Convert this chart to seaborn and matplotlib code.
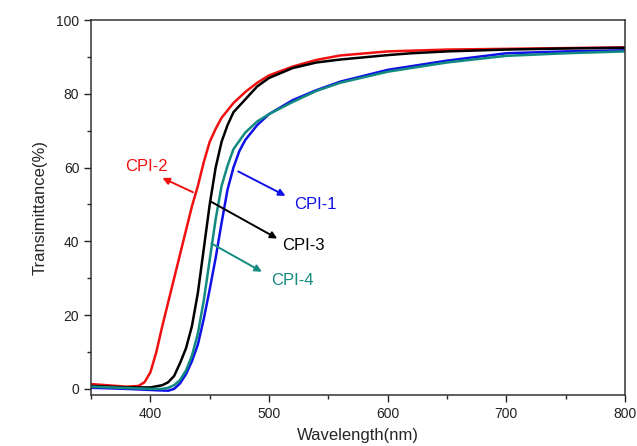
import numpy as np
import pandas as pd
import matplotlib
matplotlib.use('Agg')
import matplotlib.pyplot as plt
import seaborn as sns
from matplotlib.ticker import MultipleLocator

# ================= data =================
wl_cpi1 = [350, 380, 400, 415, 420, 425, 430, 435, 440, 445, 450, 455, 460, 465, 470, 475, 480, 490, 500,
           520, 540, 560, 600, 650, 700, 750, 800]
t_cpi1 = [0.3, 0.0, -0.3, -0.5, 0.0, 1.5, 4, 7.5, 12, 19, 27, 35.5, 45, 54, 60, 64.5, 67.5, 71.5, 74.5,
          78.3, 81, 83.3, 86.5, 89, 91, 91.5, 91.8]

wl_cpi2 = [350, 380, 390, 395, 400, 405, 410, 415, 420, 425, 430, 435, 440, 445, 450, 455, 460, 470, 480,
           490, 500, 520, 540, 560, 600, 650, 700, 750, 800]
t_cpi2 = [1.3, 0.6, 0.8, 1.8, 4.5, 10, 17, 23.5, 30, 36.5, 43, 49.5, 55, 61.5, 67, 70.5, 73.5, 77.5, 80.5,
          83, 85, 87.4, 89.2, 90.4, 91.5, 92, 92.2, 92.4, 92.6]

wl_cpi3 = [350, 380, 400, 405, 410, 415, 420, 425, 430, 435, 440, 445, 450, 455, 460, 465, 470, 480, 490, 500,
           520, 540, 560, 600, 620, 650, 700, 750, 800]
t_cpi3 = [0.8, 0.4, 0.4, 0.7, 1.0, 1.8, 3.5, 7, 11, 17, 26, 38, 50, 60, 67, 71.5, 75, 78.5, 82, 84.3,
          87, 88.5, 89.3, 90.5, 91, 91.5, 92, 92.3, 92.5]

wl_cpi4 = [350, 400, 410, 415, 420, 425, 430, 435, 440, 445, 450, 455, 460, 465, 470, 480, 490, 500,
           520, 540, 560, 600, 650, 700, 750, 800]
t_cpi4 = [0.6, 0.0, 0.0, 0.3, 1.0, 2.4, 5, 9, 15, 24, 35, 46, 55, 60.5, 65, 69.5, 72.5, 74.5,
          77.8, 80.8, 83, 86, 88.5, 90.3, 91, 91.5]

series = {'CPI-1': (wl_cpi1, t_cpi1), 'CPI-2': (wl_cpi2, t_cpi2),
          'CPI-3': (wl_cpi3, t_cpi3), 'CPI-4': (wl_cpi4, t_cpi4)}
colors = {'CPI-1': '#1010e8', 'CPI-2': '#f01010', 'CPI-3': '#000000', 'CPI-4': '#138a80'}

df = pd.concat([pd.DataFrame({'Wavelength': w, 'T': t, 'Sample': name})
                for name, (w, t) in series.items()], ignore_index=True)

# ================= style =================
sns.set_style('ticks')
plt.rcParams['font.family'] = ['Liberation Sans', 'DejaVu Sans']

fig = plt.figure(figsize=(6.37, 4.46), dpi=100)
ax = fig.add_axes([0.143, 0.114, 0.838, 0.841])

sns.lineplot(data=df, x='Wavelength', y='T', hue='Sample', palette=colors,
             estimator=None, sort=True, lw=1.8, legend=False, ax=ax)

ax.set_xlim(350, 800)
ax.set_ylim(-1.7, 100)
ax.xaxis.set_major_locator(MultipleLocator(100))
ax.xaxis.set_minor_locator(MultipleLocator(50))
ax.yaxis.set_major_locator(MultipleLocator(20))
ax.yaxis.set_minor_locator(MultipleLocator(10))
ax.tick_params(which='major', direction='out', length=5, width=1, labelsize=10, colors='#222222')
ax.tick_params(which='minor', direction='out', length=3, width=1)
for s in ax.spines.values():
    s.set_visible(True)
    s.set_linewidth(1.1)
    s.set_color('#333333')

ax.set_xlabel('Wavelength(nm)', fontsize=12, labelpad=5)
ax.set_ylabel('Transimittance(%)', fontsize=12, labelpad=6)

# ================= annotations =================
arrows = [
    ('CPI-2', (438, 53), (408, 57.5), (379, 60.2)),
    ('CPI-1', (472, 59.3), (516, 52), (521, 49.9)),
    ('CPI-3', (448.6, 51.2), (509, 40.4), (511, 39.0)),
    ('CPI-4', (449.4, 39.8), (496, 31.4), (502, 29.5)),
]
for name, tail, head, txt in arrows:
    ax.annotate('', xy=head, xytext=tail,
                arrowprops=dict(arrowstyle='-|>', color=colors[name], lw=1.4, mutation_scale=10))
    ax.text(txt[0], txt[1], name, color=colors[name], fontsize=12, ha='left', va='center')

plt.savefig('out.png', dpi=100)
